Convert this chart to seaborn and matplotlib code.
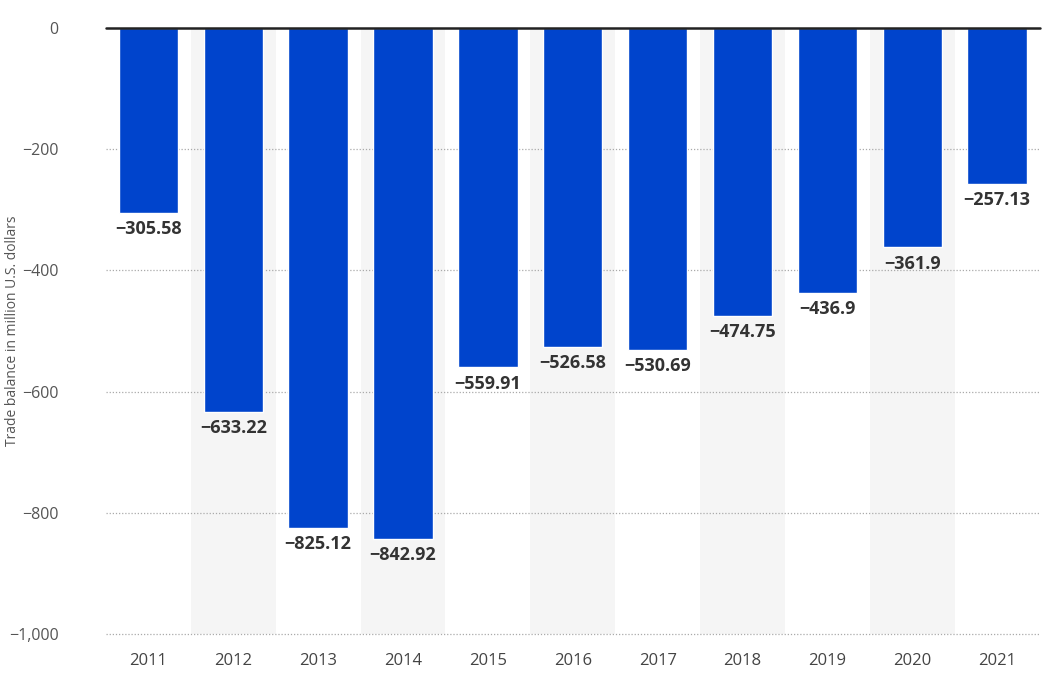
import matplotlib
matplotlib.use("Agg")
import matplotlib.pyplot as plt
import seaborn as sns

# Data
years = ['2011', '2012', '2013', '2014', '2015', '2016',
         '2017', '2018', '2019', '2020', '2021']
trade_balance = [-305.58, -633.22, -825.12, -842.92, -559.91, -526.58,
                 -530.69, -474.75, -436.9, -361.9, -257.13]
y_ticks = [0, -200, -400, -600, -800, -1000]

sns.set_style("white")
plt.rcParams['font.family'] = ['Open Sans', 'DejaVu Sans']

fig = plt.figure(figsize=(10.5, 6.74), dpi=100)
ax = fig.add_axes([0.101, 0.0593, 0.889, 0.8991])

# alternating light grey column bands
for i in range(len(years)):
    if i % 2 == 1:
        ax.axvspan(i - 0.5, i + 0.5, color='#f5f5f5', zorder=0, lw=0)

sns.barplot(x=years, y=trade_balance, color='#0044cc', width=0.7,
            saturation=1, ax=ax, zorder=3)

ax.set_ylim(-1000, 0)
ax.set_xlim(-0.5, len(years) - 0.5)
ax.set_yticks(y_ticks)
ax.set_yticklabels(['0' if t == 0 else f'−{abs(t):,}' for t in y_ticks])

# dotted grid lines and solid zero line
for t in y_ticks[1:]:
    ax.axhline(t, color='#aaaaaa', lw=0.9, ls=(0, (1, 1.5)), zorder=1, clip_on=False)
ax.axhline(0, color='#222222', lw=1.8, zorder=4, clip_on=False)

for side in ['top', 'right', 'left', 'bottom']:
    ax.spines[side].set_visible(False)

ax.tick_params(axis='x', length=0, pad=14, labelsize=12, labelcolor='#444444')
ax.tick_params(axis='y', length=0, pad=34, labelsize=11.5, labelcolor='#555555')

ax.set_ylabel('Trade balance in million U.S. dollars', fontsize=10,
              color='#555555', labelpad=0)
ax.yaxis.set_label_coords(-0.092, 0.5)

# value labels under each bar
for idx, val in enumerate(trade_balance):
    ax.text(idx, val - 12, f'−{abs(val):g}', ha='center', va='top',
            fontsize=13, fontweight='bold', color='#333333', zorder=5)

plt.savefig('out.png', dpi=100)
